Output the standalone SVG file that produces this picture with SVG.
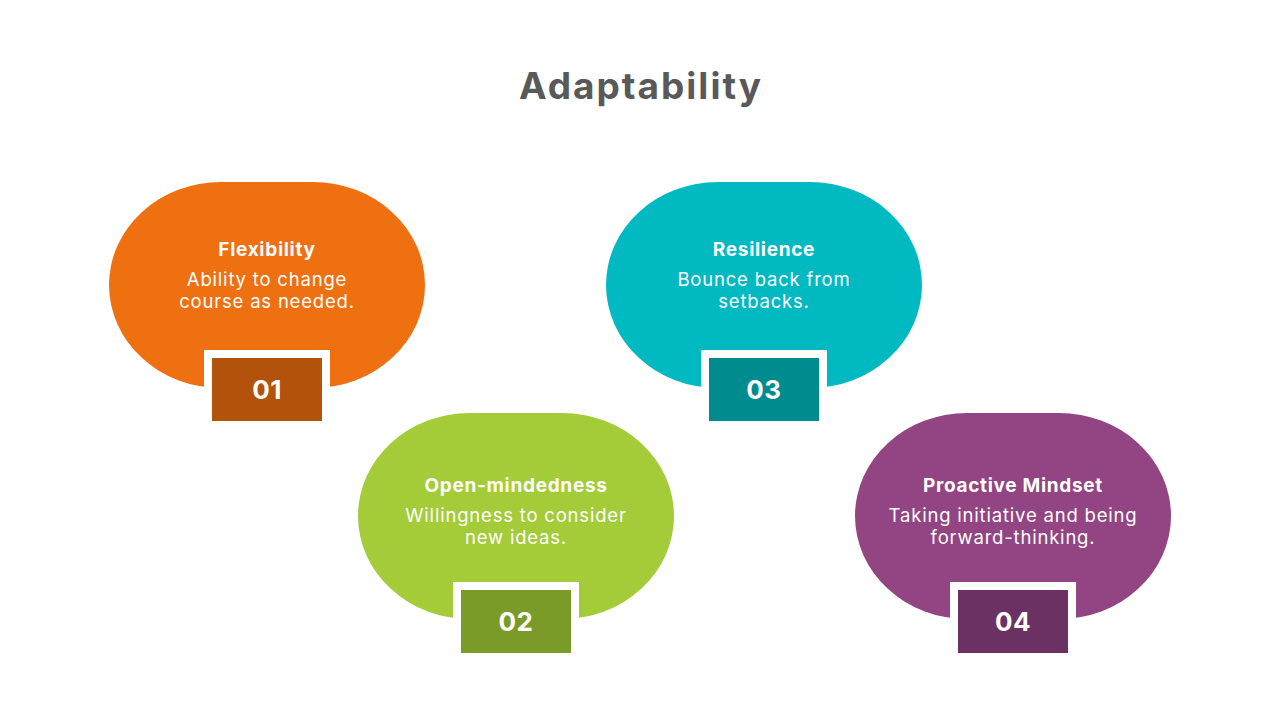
<svg xmlns="http://www.w3.org/2000/svg" width="1280" height="720" viewBox="0 0 1280 720">
<style>
.title{font-family:Inter,"Open Sans","Liberation Sans",sans-serif;font-weight:700;font-size:37px;fill:#595959;text-anchor:middle;letter-spacing:2px}
.h{font-family:Inter,"Open Sans","Liberation Sans",sans-serif;font-weight:700;font-size:19px;fill:#fff;text-anchor:middle;letter-spacing:0.7px}
.b{font-family:Inter,"Open Sans","Liberation Sans",sans-serif;font-weight:400;font-size:18.5px;fill:#fff;text-anchor:middle;letter-spacing:0.8px}
.n{font-family:Inter,"Open Sans","Liberation Sans",sans-serif;font-weight:700;font-size:26px;fill:#fff;text-anchor:middle;letter-spacing:0.5px}
.frame{fill:#fff}
</style>
<rect width="1280" height="720" fill="#fff"/>
<text class="title" x="641" y="99">Adaptability</text>
<g id="node-01">
<rect x="109" y="182" width="316" height="206" rx="112" ry="103" fill="#EE7011"/>
<rect class="frame" x="204" y="350" width="126" height="80"/>
<rect x="212" y="358" width="110" height="63" fill="#B3530B"/>
<text class="n" x="267" y="399">01</text>
<text class="h" x="267" y="256">Flexibility</text>
<text class="b" x="267" y="286">Ability to change</text>
<text class="b" x="267" y="308">course as needed.</text>
</g>
<g id="node-03">
<rect x="606" y="182" width="316" height="206" rx="112" ry="103" fill="#00B9C1"/>
<rect class="frame" x="701" y="350" width="126" height="80"/>
<rect x="709" y="358" width="110" height="63" fill="#008B8F"/>
<text class="n" x="764" y="399">03</text>
<text class="h" x="764" y="256">Resilience</text>
<text class="b" x="764" y="286">Bounce back from</text>
<text class="b" x="764" y="308">setbacks.</text>
</g>
<g id="node-02">
<rect x="358" y="413" width="316" height="206" rx="112" ry="103" fill="#A3CC38"/>
<rect class="frame" x="453" y="582" width="126" height="80"/>
<rect x="461" y="590" width="110" height="63" fill="#7A9B27"/>
<text class="n" x="516" y="631">02</text>
<text class="h" x="516" y="492">Open-mindedness</text>
<text class="b" x="516" y="522">Willingness to consider</text>
<text class="b" x="516" y="544">new ideas.</text>
</g>
<g id="node-04">
<rect x="855" y="413" width="316" height="206" rx="112" ry="103" fill="#924483"/>
<rect class="frame" x="950" y="582" width="126" height="80"/>
<rect x="958" y="590" width="110" height="63" fill="#6C3163"/>
<text class="n" x="1013" y="631">04</text>
<text class="h" x="1013" y="492">Proactive Mindset</text>
<text class="b" x="1013" y="522">Taking initiative and being</text>
<text class="b" x="1013" y="544">forward-thinking.</text>
</g>
<g id="connectors"></g>
</svg>
